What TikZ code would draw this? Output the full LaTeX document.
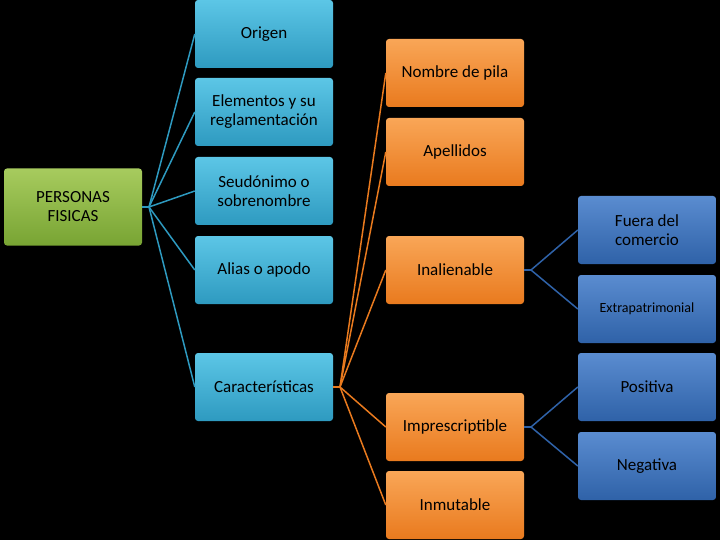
\documentclass[tikz,border=0pt]{standalone}
\usepackage{fontspec}
\setmainfont{Carlito}
\begin{document}
\begin{tikzpicture}[x=1pt,y=-1pt,
  bx/.style={rounded corners=3pt,minimum width=138pt,minimum height=68pt,inner sep=1pt,align=center,font=\fontsize{17}{19}\selectfont,text=black},
  tl/.style={bx,top color=cTealL,bottom color=cTeal},
  og/.style={bx,top color=cOrL,bottom color=cOr},
  bl/.style={bx,top color=cBlL,bottom color=cBl},
  gr/.style={bx,top color=cGrL,bottom color=cGr},
  ct/.style={draw=cTeal,line width=1.5pt},
  co/.style={draw=cOr,line width=1.5pt},
  cb/.style={draw=cBl,line width=1.5pt}]
\definecolor{cTeal}{HTML}{2E9AC0}\definecolor{cTealL}{HTML}{5CC6E6}
\definecolor{cOr}{HTML}{E97A1E}\definecolor{cOrL}{HTML}{F9A657}
\definecolor{cBl}{HTML}{2F62A8}\definecolor{cBlL}{HTML}{5A8CD0}
\definecolor{cGr}{HTML}{78A433}\definecolor{cGrL}{HTML}{A7CB5E}
\fill[black] (0,0) rectangle (720,540);
\node[gr,minimum height=77pt] (pf) at (73,207) {PERSONAS\\FISICAS};
\node[tl] (o) at (264,34) {Origen};
\node[tl] (e) at (264,112) {Elementos y su\\reglamentación};
\node[tl] (s) at (264,191) {Seudónimo o\\sobrenombre};
\node[tl] (a) at (264,270) {Alias o apodo};
\node[tl] (c) at (264,387) {Características};
\node[og] (n) at (455,73) {Nombre de pila};
\node[og] (ap) at (455,152) {Apellidos};
\node[og] (i) at (455,270) {Inalienable};
\node[og] (ip) at (455,427) {Imprescriptible};
\node[og] (im) at (455,505) {Inmutable};
\node[bl] (f) at (647,230) {Fuera del\\comercio};
\node[bl,font=\fontsize{14}{16}\selectfont] (x) at (647,309) {Extrapatrimonial};
\node[bl] (p) at (647,387) {Positiva};
\node[bl] (ng) at (647,466) {Negativa};
\coordinate (k1) at (149,207);
\draw[ct] (pf.east) -- (k1);
\foreach \t in {o,e,s,a,c} \draw[ct] (k1) -- (\t.west);
\coordinate (k2) at (340,387);
\draw[co] (c.east) -- (k2);
\foreach \t in {n,ap,i,ip,im} \draw[co] (k2) -- (\t.west);
\coordinate (k3) at (531,270);
\draw[cb] (i.east) -- (k3);
\foreach \t in {f,x} \draw[cb] (k3) -- (\t.west);
\coordinate (k4) at (531,427);
\draw[cb] (ip.east) -- (k4);
\foreach \t in {p,ng} \draw[cb] (k4) -- (\t.west);
\end{tikzpicture}
\end{document}
